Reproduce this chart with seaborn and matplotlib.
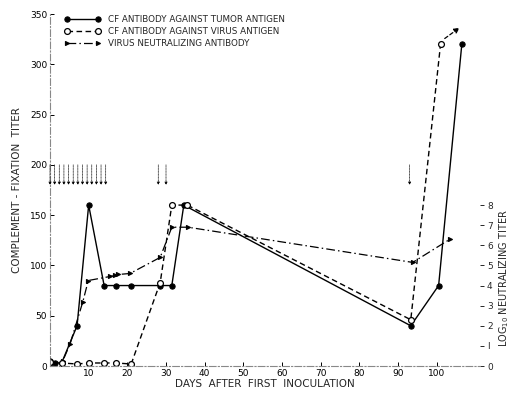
import matplotlib
matplotlib.use("Agg")
import matplotlib.pyplot as plt
import seaborn as sns
import pandas as pd

# ---- data ----
tumor_days = [0, 1.3, 3, 7, 10, 14, 17, 21, 28.5, 31.5, 34.6, 93.3, 100.5, 106.5]
tumor_cf = [5, 3, 3, 40, 160, 80, 80, 80, 80, 80, 160, 40, 80, 320]

virus_days = [0, 3, 7, 10, 14, 17, 21, 28.5, 31.5, 35.5, 93.3, 101]
virus_cf = [4, 3, 2, 3, 3, 3, 2, 83, 160, 160, 46, 320]

neut_days = [0, 3.3, 5.2, 8.5, 9.9, 15.5, 16.8, 17.7, 20.7, 28.5, 31.5, 35.7, 93.8, 103.4]
neut_log = [0.05, 0.25, 1.1, 3.2, 4.25, 4.45, 4.5, 4.55, 4.6, 5.4, 6.9, 6.9, 5.15, 6.3]
neut_offscale = [(101.5, 16.2), (106.5, 16.9)]

inoculation_days = [0, 1.2, 2.4, 3.6, 4.8, 6, 7.2, 8.4, 9.6, 10.8, 12, 13.2, 14.4, 28, 30, 93]

left_ticks = [0, 50, 100, 150, 200, 250, 300, 350]
x_ticks = [10, 20, 30, 40, 50, 60, 70, 80, 90, 100]
right_ticks = [0, 1, 2, 3, 4, 5, 6, 7, 8]
right_ticklabels = ["0", "I", "2", "3", "4", "5", "6", "7", "8"]

labels = ["CF ANTIBODY AGAINST TUMOR ANTIGEN",
          "CF ANTIBODY AGAINST VIRUS ANTIGEN",
          "VIRUS NEUTRALIZING ANTIBODY"]

sns.set_style("white")
plt.rcParams['font.family'] = ['DejaVu Sans']

fig = plt.figure(figsize=(5.10, 3.93), dpi=100)
ax = fig.add_axes([50/510, 1-366/393, 430/510, 352/393])
ax2 = ax.twinx()

df_t = pd.DataFrame({"day": tumor_days, "titer": tumor_cf})
df_v = pd.DataFrame({"day": virus_days, "titer": virus_cf})
df_n = pd.DataFrame({"day": neut_days, "log": neut_log})

sns.lineplot(data=df_t, x="day", y="titer", ax=ax, color="black", lw=1.0,
             marker="o", markersize=3.8, markerfacecolor="black",
             markeredgecolor="black", sort=False, label=labels[0], legend=False)
sns.lineplot(data=df_v, x="day", y="titer", ax=ax, color="black", lw=1.0,
             linestyle=(0, (4, 2.5)), marker="o", markersize=4.2,
             markerfacecolor="white", markeredgecolor="black", markeredgewidth=0.9,
             sort=False, label=labels[1], legend=False)
sns.lineplot(data=df_n, x="day", y="log", ax=ax2, color="black", lw=0.9,
             linestyle=(0, (7, 2.5, 1.2, 2.5)), marker=">", markersize=3,
             markerfacecolor="black", markeredgecolor="black",
             sort=False, label=labels[2], legend=False)

# off-scale arrow for neutralizing antibody
(x0, y0), (x1, y1) = neut_offscale
ax2.annotate("", xy=(x1, y1), xytext=(x0, y0),
             arrowprops=dict(arrowstyle="-|>", color="black", lw=0.9,
                             linestyle=(0, (3, 2)), mutation_scale=8))

# inoculation arrows
for d in inoculation_days:
    ax.annotate("", xy=(d, 180), xytext=(d, 200),
                arrowprops=dict(arrowstyle="-|>", color="black", lw=0.5,
                                linestyle=(0, (1, 1.2)), mutation_scale=4,
                                shrinkA=0, shrinkB=0))

ax.set_xlim(0, 111.2)
ax.set_ylim(0, 350)
ax2.set_ylim(0, 17.5)

ax.set_xticks(x_ticks)
ax.set_yticks(left_ticks)
ax.set_yticklabels([str(t) for t in left_ticks])
ax2.set_yticks(right_ticks)
ax2.set_yticklabels(right_ticklabels)

ax.tick_params(axis="both", direction="in", length=3, width=0.7, labelsize=6.5,
               colors="black", pad=2)
ax.tick_params(axis="y", left=True)
ax.tick_params(axis="x", bottom=True)
ax2.tick_params(axis="y", direction="out", length=3, width=0.7, labelsize=6.5,
                pad=2, right=True)

for side in ["top", "right"]:
    ax.spines[side].set_visible(False)
    ax2.spines[side].set_visible(False)
ax2.spines["left"].set_visible(False)
ax2.spines["bottom"].set_visible(False)
for side in ["left", "bottom"]:
    ax.spines[side].set_color("#888888")
    ax.spines[side].set_linewidth(0.8)
    ax.spines[side].set_linestyle((0, (6, 2, 1, 2)))

ax.set_xlabel("DAYS  AFTER  FIRST  INOCULATION", fontsize=7.5, labelpad=1)
ax.set_ylabel("COMPLEMENT - FIXATION  TITER", fontsize=7.5, labelpad=6)
ax2.set_ylabel(r"LOG$_{10}$ NEUTRALIZING TITER", fontsize=7)
ax2.yaxis.set_label_coords(1.04, 0.25)

h1, l1 = ax.get_legend_handles_labels()
h2, l2 = ax2.get_legend_handles_labels()
leg = ax.legend(h1 + h2, labels, loc="upper left", bbox_to_anchor=(0.015, 1.02),
                frameon=False, fontsize=6.3, handlelength=4.2, numpoints=2,
                labelspacing=0.35, handletextpad=0.8)
ax.set_zorder(ax2.get_zorder() + 1)
ax.patch.set_visible(False)

fig.savefig("out.png", dpi=100)
